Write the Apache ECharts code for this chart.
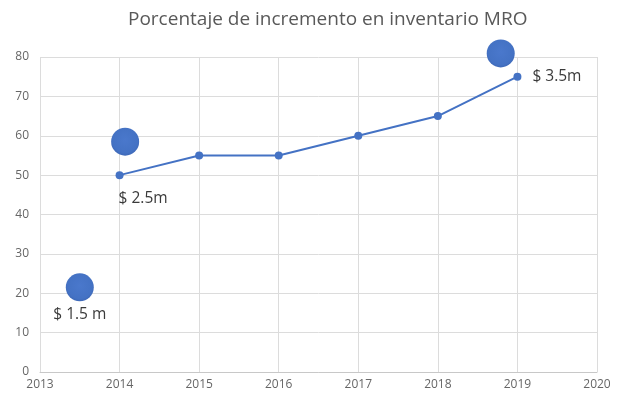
<!DOCTYPE html>
<html>
<head>
<meta charset="utf-8">
<script src="https://cdn.jsdelivr.net/npm/echarts@6/dist/echarts.min.js"></script>
<style>
  html, body { margin: 0; padding: 0; background: #fff; }
  #chart { width: 622px; height: 398px; }
</style>
</head>
<body>
<div id="chart"></div>
<script>
// Year-by-year percentage line
const years = [2014, 2015, 2016, 2017, 2018, 2019];
const porcentajes = [50, 55, 55, 60, 65, 75];

// Investment bubbles (position on the same axes)
const burbujasX = [2013.5, 2014.07, 2018.79];
const burbujasY = [21.5, 58.5, 80.9];
const montos = ['$ 1.5 m', '$ 2.5m', '$ 3.5m'];

const titulo = 'Porcentaje de incremento en inventario MRO';

const azul = '#4472C4';
const fuente = 'Open Sans';

const lineData = years.map((y, i) => [y, porcentajes[i]]);
// $2.5m sits under the 2014 point, $3.5m to the right of the 2019 point
lineData[0] = {
  value: [years[0], porcentajes[0]],
  label: { show: true, formatter: montos[1], position: [3, 19], align: 'left', verticalAlign: 'top' }
};
lineData[5] = {
  value: [years[5], porcentajes[5]],
  label: { show: true, formatter: montos[2], position: 'right', distance: 11 }
};

const bubbleData = burbujasX.map((x, i) => [x, burbujasY[i]]);
bubbleData[0] = {
  value: [burbujasX[0], burbujasY[0]],
  label: { show: true, formatter: montos[0], position: 'bottom', distance: 5 }
};

const chart = echarts.init(document.getElementById('chart'), null, { renderer: 'canvas' });
chart.setOption({
  animation: false,
  backgroundColor: '#ffffff',
  textStyle: { fontFamily: fuente },
  title: {
    text: titulo,
    left: 123,
    top: 5,
    textStyle: { fontFamily: fuente, fontSize: 19, fontWeight: 'normal', color: '#595959' }
  },
  grid: { left: 40, right: 25, top: 57, bottom: 26, containLabel: false },
  xAxis: {
    type: 'value',
    min: 2013,
    max: 2020,
    interval: 1,
    axisLine: { show: true, lineStyle: { color: '#c8c8c8', width: 1 } },
    axisTick: { show: false },
    axisLabel: { color: '#666666', fontSize: 12, margin: 7, formatter: v => String(v) },
    splitLine: { show: true, lineStyle: { color: '#dcdcdc', width: 1 } }
  },
  yAxis: {
    type: 'value',
    min: 0,
    max: 80,
    interval: 10,
    axisLine: { show: false },
    axisTick: { show: false },
    axisLabel: { color: '#666666', fontSize: 12, margin: 11 },
    splitLine: { show: true, lineStyle: { color: '#dcdcdc', width: 1 } }
  },
  series: [
    {
      name: 'porcentaje',
      type: 'line',
      data: lineData,
      symbol: 'circle',
      symbolSize: 8,
      lineStyle: { color: azul, width: 2 },
      itemStyle: { color: azul },
      label: { color: '#3a3a3a', fontSize: 15.5, fontFamily: fuente },
      z: 3
    },
    {
      name: 'inversion',
      type: 'scatter',
      data: bubbleData,
      symbol: 'circle',
      symbolSize: 28,
      clip: false,
      itemStyle: {
        opacity: 1,
        color: {
          type: 'radial', x: 0.5, y: 0.45, r: 0.6,
          colorStops: [
            { offset: 0, color: '#4a78cc' },
            { offset: 0.75, color: '#4472c4' },
            { offset: 1, color: '#3b64b2' }
          ]
        }
      },
      label: { color: '#3a3a3a', fontSize: 15.5, fontFamily: fuente },
      z: 4
    }
  ]
});
</script>
</body>
</html>
